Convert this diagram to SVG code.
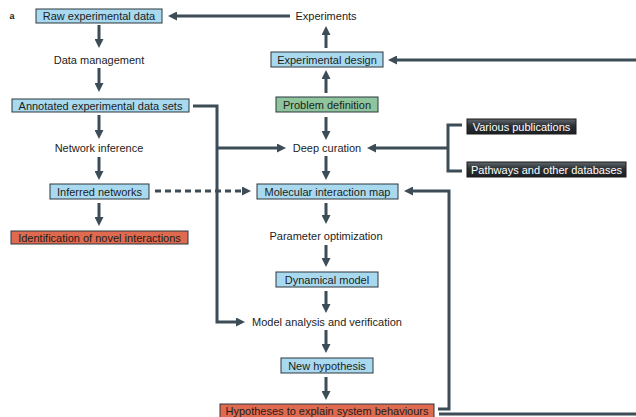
<svg xmlns="http://www.w3.org/2000/svg" width="636" height="417" viewBox="0 0 636 417">
  <defs>
    <marker id="arrow" viewBox="0 0 10 10" markerWidth="9" markerHeight="9" markerUnits="userSpaceOnUse" refX="5" refY="5" orient="auto">
      <path d="M0,0 L10,5 L0,10 z" fill="#3c4d58"/>
    </marker>
    <linearGradient id="dark" x1="0" y1="0" x2="0" y2="1">
      <stop offset="0" stop-color="#61686d"/>
      <stop offset="0.45" stop-color="#2a2f33"/>
      <stop offset="1" stop-color="#1c2024"/>
    </linearGradient>
    <style>
      text { font-family: "Liberation Sans", Arial, sans-serif; font-size: 11px; fill: #1d1d1b; text-anchor: middle; dominant-baseline: central; }
      .box { stroke: #2b363d; stroke-width: 1; }
      .blue { fill: #a9d9ef; }
      .green { fill: #8fc59c; }
      .red { fill: #e06a4f; }
      .dark { fill: url(#dark); stroke: #1a1a1a; }
      .wire { fill: none; stroke: #3c4d58; stroke-width: 3; }
      .arr { marker-end: url(#arrow); }
      .dash { stroke-dasharray: 6 4; }
    </style>
  </defs>

  <rect width="636" height="417" fill="#ffffff"/>

  <!-- panel letter -->
  <text x="12" y="15.5" style="font-weight:bold;font-size:9px">a</text>

  <!-- connectors -->
  <g id="connectors">
    <path class="wire arr" d="M290,16 H172.5"/>
    <path class="wire arr" d="M99,25 V43.5"/>
    <path class="wire arr" d="M99,68 V87.5"/>
    <path class="wire arr" d="M99,115 V134.5"/>
    <path class="wire arr" d="M99,157 V175.5"/>
    <path class="wire arr" d="M99,203 V221.5"/>
    <path class="wire arr dash" d="M155,191 H246.5"/>
    <path class="wire arr" d="M193,106 H217 V322 H240.5"/>
    <path class="wire arr" d="M217,148 H281.5"/>
    <path class="wire arr" d="M326,48 V30.5"/>
    <path class="wire arr" d="M636,60 H392.5"/>
    <path class="wire arr" d="M326,93 V74.5"/>
    <path class="wire arr" d="M326,117 V135.5"/>
    <path class="wire arr" d="M326,156 V175.5"/>
    <path class="wire" d="M462,125 H448 V171 H462"/>
    <path class="wire arr" d="M448,148 H371.5"/>
    <path class="wire arr" d="M326,203 V219.5"/>
    <path class="wire arr" d="M326,245 V262.5"/>
    <path class="wire arr" d="M326,291 V308.5"/>
    <path class="wire arr" d="M326,330 V348.5"/>
    <path class="wire arr" d="M326,377 V395.5"/>
    <path class="wire arr" d="M438,409 H449 V191 H408.5"/>
    <path class="wire" d="M439,414 H636"/>
  </g>

  <!-- left column -->
  <g id="raw-data">
    <rect class="box blue" x="36" y="9" width="126" height="14"/>
    <text x="99" y="16">Raw experimental data</text>
  </g>
  <g id="data-management">
    <text x="99" y="60">Data management</text>
  </g>
  <g id="annotated-data">
    <rect class="box blue" x="12" y="99" width="177" height="13"/>
    <text x="100.5" y="105.5">Annotated experimental data sets</text>
  </g>
  <g id="network-inference">
    <text x="99" y="148">Network inference</text>
  </g>
  <g id="inferred-networks">
    <rect class="box blue" x="50" y="184" width="99" height="15"/>
    <text x="99.5" y="191.5">Inferred networks</text>
  </g>
  <g id="novel-interactions">
    <rect class="box red" x="11" y="231" width="177" height="13"/>
    <text x="99.5" y="237.5">Identification of novel interactions</text>
  </g>

  <!-- central column -->
  <g id="experiments">
    <text x="326" y="16">Experiments</text>
  </g>
  <g id="experimental-design">
    <rect class="box blue" x="271" y="52" width="112" height="15"/>
    <text x="327" y="59.5">Experimental design</text>
  </g>
  <g id="problem-definition">
    <rect class="box green" x="276" y="97" width="102" height="15"/>
    <text x="327" y="104.5">Problem definition</text>
  </g>
  <g id="deep-curation">
    <text x="327" y="148">Deep curation</text>
  </g>
  <g id="interaction-map">
    <rect class="box blue" x="257" y="184" width="141" height="15"/>
    <text x="327.5" y="191.5">Molecular interaction map</text>
  </g>
  <g id="parameter-optimization">
    <text x="326" y="236">Parameter optimization</text>
  </g>
  <g id="dynamical-model">
    <rect class="box blue" x="276" y="272" width="102" height="15"/>
    <text x="327" y="279.5">Dynamical model</text>
  </g>
  <g id="model-analysis">
    <text x="327" y="322">Model analysis and verification</text>
  </g>
  <g id="new-hypothesis">
    <rect class="box blue" x="281" y="358" width="92" height="15"/>
    <text x="327" y="365.5">New hypothesis</text>
  </g>
  <g id="system-hypotheses">
    <rect class="box red" x="220" y="404" width="214" height="16"/>
    <text x="327" y="411">Hypotheses to explain system behaviours</text>
  </g>

  <!-- external sources -->
  <g id="publications">
    <rect class="box dark" x="467" y="119" width="109" height="15"/>
    <text x="521.5" y="126.5" style="fill:#ffffff">Various publications</text>
  </g>
  <g id="databases">
    <rect class="box dark" x="467" y="162" width="159" height="15"/>
    <text x="546.5" y="169.5" style="fill:#ffffff">Pathways and other databases</text>
  </g>
</svg>
